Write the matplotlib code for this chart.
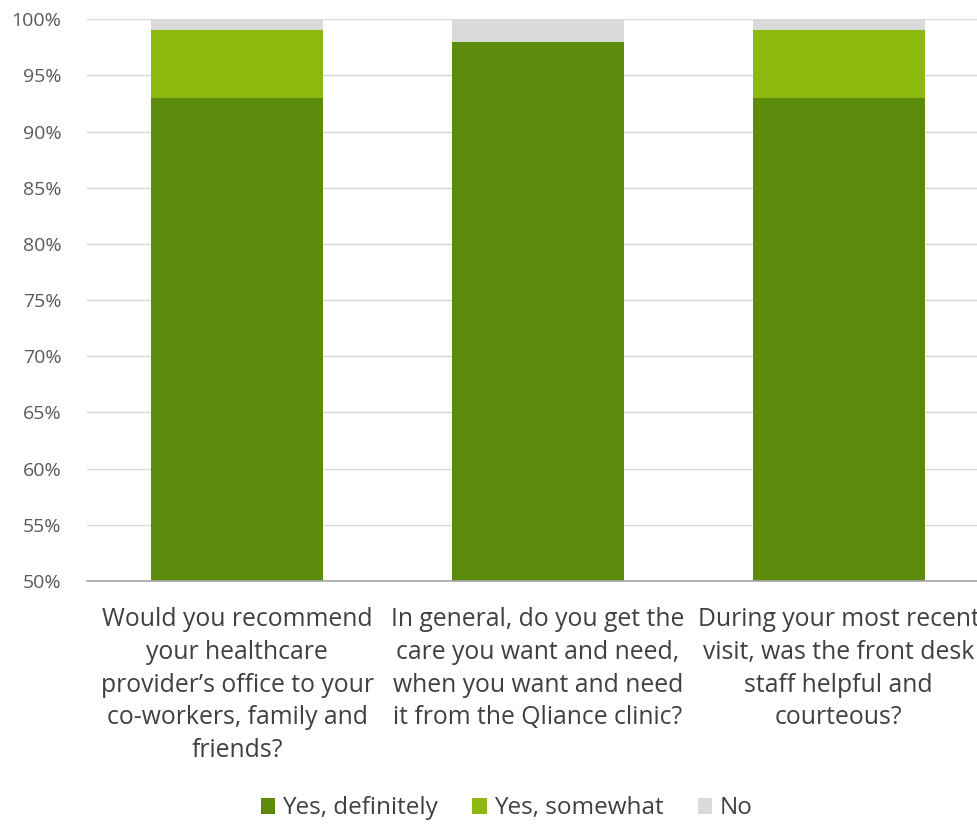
import matplotlib.pyplot as plt
import numpy as np

# data
questions = [
    "Would you recommend\nyour healthcare\nprovider\u2019s office to your\nco-workers, family and\nfriends?",
    "In general, do you get the\ncare you want and need,\nwhen you want and need\nit from the Qliance clinic?",
    "During your most recent\nvisit, was the front desk\nstaff helpful and\ncourteous?",
]
yes_definitely = [93, 98, 93]
yes_somewhat = [6, 0, 6]
no = [1, 2, 1]

colors = ['#5B8A0C', '#8DB80E', '#DADADA']
labels = ['Yes, definitely', 'Yes, somewhat', 'No']

plt.rcParams['font.family'] = ['Open Sans', 'DejaVu Sans']

fig = plt.figure(figsize=(9.78, 8.25), dpi=100)
ax = fig.add_axes([0.0885, 0.2958, 0.923, 0.681])

x = np.arange(len(questions))
w = 0.57
d = np.array(yes_definitely)
s = np.array(yes_somewhat)
n = np.array(no)
ax.bar(x, d, w, color=colors[0], label=labels[0], zorder=2)
ax.bar(x, s, w, bottom=d, color=colors[1], label=labels[1], zorder=2)
ax.bar(x, n, w, bottom=d + s, color=colors[2], label=labels[2], zorder=2)

ax.set_xlim(-0.5, 2.5)
ax.set_ylim(50, 100)
ax.set_yticks(range(50, 101, 5))
ax.set_yticklabels([f'{v}%' for v in range(50, 101, 5)])
ax.yaxis.grid(True, color='#D9D9D9', linewidth=1, zorder=0)
ax.set_axisbelow(True)
for sp in ['top', 'right', 'left']:
    ax.spines[sp].set_visible(False)
ax.spines['bottom'].set_color('#A6A6A6')
ax.spines['bottom'].set_linewidth(1.2)
ax.tick_params(axis='y', length=0, labelsize=14, labelcolor='#595959', pad=18)
ax.tick_params(axis='x', length=0, labelsize=17.8, labelcolor='#404040', pad=19)
ax.set_xticks(x)
ax.set_xticklabels(questions, linespacing=1.4)

fig.legend(loc='lower center', bbox_to_anchor=(0.518, -0.021), ncol=3, frameon=False,
           fontsize=17.5, handlelength=0.6, handleheight=0.6, handletextpad=0.3,
           columnspacing=1.4, labelcolor='#404040')

plt.savefig('out.png', dpi=100)
